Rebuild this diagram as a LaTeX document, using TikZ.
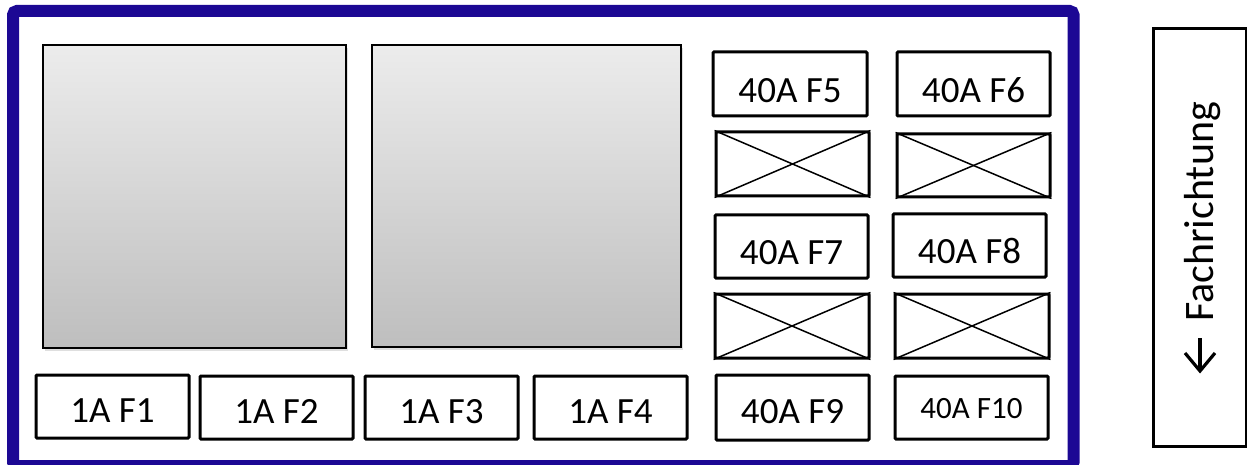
\documentclass[tikz,border=0pt]{standalone}
\usepackage{fontspec}
\setmainfont{Carlito}
\usetikzlibrary{calc,shadows}
\definecolor{frameblue}{RGB}{28,8,148}
\definecolor{graytop}{RGB}{236,236,236}
\definecolor{graybot}{RGB}{190,190,190}
\tikzset{
  fuse/.style={draw=black, line width=3pt, rounded corners=1pt, fill=white, inner sep=0pt},
  bigbox/.style={draw=black, line width=1.6pt, top color=graytop, bottom color=graybot,
    drop shadow={shadow xshift=2pt, shadow yshift=-3pt, opacity=0.25}},
  lbl/.style={anchor=base, inner sep=0pt, font=\fontsize{37}{40}\selectfont},
  cross/.style={line width=1.5pt},
  arrowline/.style={line width=3.2pt, line cap=butt},
}
\begin{document}
\begin{tikzpicture}[x=1pt,y=-1pt]
\useasboundingbox (0,0) rectangle (1247,465);
\clip (0,0) rectangle (1247,465);
% outer frame
\draw[frameblue, line width=12pt, rounded corners=4pt] (13,11) rectangle (1073.5,466);
% big gray boxes
\path[bigbox] (43,45) rectangle (346,348);
\path[bigbox] (372,45) rectangle (681,347);
% fuse boxes
\newcommand{\fusebox}[5]{% name, x1, y1, x2, y2
  \node[fuse, minimum width={#4-#2}, minimum height={#5-#3}] (#1) at ({(#2+#4)/2},{(#3+#5)/2}) {};}
\fusebox{f5}{713}{52}{867}{116}
\fusebox{f6}{897}{52}{1050}{116}
\fusebox{x1}{716}{132}{869}{196}
\fusebox{x2}{897}{134}{1050}{197}
\fusebox{f7}{715}{215}{868}{278}
\fusebox{f8}{893}{214}{1046}{277}
\fusebox{x3}{715}{294}{869}{358}
\fusebox{x4}{895}{294}{1049}{358}
\fusebox{f9}{716}{375}{869}{440}
\fusebox{f10}{895}{376}{1048}{439}
\fusebox{f1}{36}{375}{189}{438}
\fusebox{f2}{200}{376}{353}{439}
\fusebox{f3}{365}{376}{518}{439}
\fusebox{f4}{534}{376}{687}{439}
% crosses
\foreach \n in {x1,x2,x3,x4}{
  \draw[cross] (\n.north west) -- (\n.south east);
  \draw[cross] (\n.south west) -- (\n.north east);
}
% labels
\node[lbl] (t5) at ($(f5.center)+(0,19)$) {40A F5};
\node[lbl] (t6) at ($(f6.center)+(0,19)$) {40A F6};
\node[lbl] (t7) at ($(f7.center)+(0,18)$) {40A F7};
\node[lbl] (t8) at ($(f8.center)+(0,18)$) {40A F8};
\node[lbl] (t9) at ($(f9.center)+(0,16)$) {40A F9};
\node[lbl, font=\fontsize{31}{34}\selectfont] (t10) at ($(f10.center)+(0,11)$) {40A F10};
\node[lbl] (t1) at ($(f1.center)+(0,16)$) {1A F1};
\node[lbl] (t2) at ($(f2.center)+(0,16)$) {1A F2};
\node[lbl] (t3) at ($(f3.center)+(0,16)$) {1A F3};
\node[lbl] (t4) at ($(f4.center)+(0,16)$) {1A F4};
% direction box
\node[draw=black, line width=3pt, inner sep=0pt, minimum width=93pt, minimum height=417pt] (dir) at (1199.5,237.5) {};
\node[rotate=90, anchor=base west, inner sep=0pt, font=\fontsize{42}{46}\selectfont] (dirtext) at (1213,322) {Fachrichtung};
% direction arrow
\coordinate (ashaft) at (1200,338);
\coordinate (atip) at (1200,371);
\draw[arrowline] (ashaft) -- (atip);
\draw[arrowline, line join=miter] (1185,353) -- (atip) -- (1215,353);
\end{tikzpicture}
\end{document}
